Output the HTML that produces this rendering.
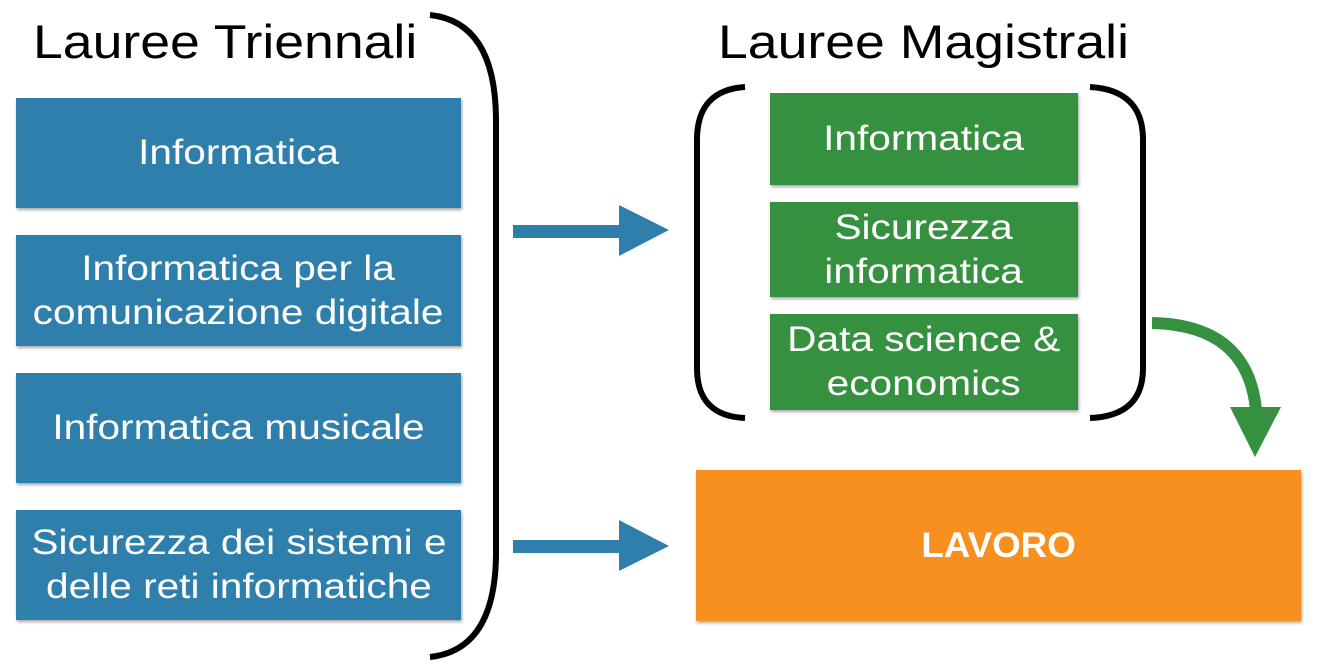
<!DOCTYPE html>
<html><head><meta charset="utf-8"><style>
body{margin:0;width:1330px;height:671px;background:#fff;overflow:hidden;position:relative;font-family:"Liberation Sans",sans-serif}
.b{position:absolute;color:#fff;display:flex;align-items:center;justify-content:center;text-align:center;box-shadow:1px 2px 3px rgba(0,0,0,.35);line-height:1.25}
.b span{display:inline-block;transform:scaleX(1.16);white-space:nowrap}
.bl{background:#2f7fad;left:16px;width:445px;font-size:35px}
.gr{background:#35913f;left:770px;width:308px;font-size:35px}
.t{position:absolute;font-size:47px;color:#000;white-space:nowrap;transform:scaleX(1.14);transform-origin:0 0}
</style></head><body>
<div class="t" style="left:33px;top:14px">Lauree Triennali</div>
<div class="t" style="left:718px;top:14px">Lauree Magistrali</div>
<div class="b bl" style="top:98px;height:110px"><span>Informatica</span></div>
<div class="b bl" style="top:235px;height:111px"><span>Informatica per la<br>comunicazione digitale</span></div>
<div class="b bl" style="top:373px;height:110px"><span>Informatica musicale</span></div>
<div class="b bl" style="top:510px;height:110px"><span>Sicurezza dei sistemi e<br>delle reti informatiche</span></div>
<div class="b gr" style="top:93px;height:92px"><span>Informatica</span></div>
<div class="b gr" style="top:202px;height:95px"><span>Sicurezza<br>informatica</span></div>
<div class="b gr" style="top:314px;height:96px"><span>Data science &amp;<br>economics</span></div>
<div class="b" style="left:696px;top:470px;width:605px;height:151px;background:#f7901e;font-size:35px;font-weight:bold"><span style="transform:scaleX(1.05)">LAVORO</span></div>
<svg width="1330" height="671" style="position:absolute;left:0;top:0">
<g fill="none" stroke="#000" stroke-width="6">
<path d="M430,15 Q495,22 496,118 L496,555 Q495,650 430,657"/>
<path d="M745,87 Q698,90 697,138 L697,370 Q698,416 745,418"/>
<path d="M1090,87 Q1142,90 1143,138 L1143,370 Q1142,416 1090,418"/>
</g>
<g fill="#2f7fad">
<rect x="513" y="225" width="108" height="13"/><polygon points="619,205 669,230 619,256"/>
<rect x="513" y="540" width="108" height="13"/><polygon points="619,520 669,546 619,571"/>
</g>
<path d="M1152,323 Q1248,325 1256,410" fill="none" stroke="#35913f" stroke-width="12"/>
<polygon points="1230,407 1281,407 1255,457" fill="#35913f"/>
</svg>
</body></html>
